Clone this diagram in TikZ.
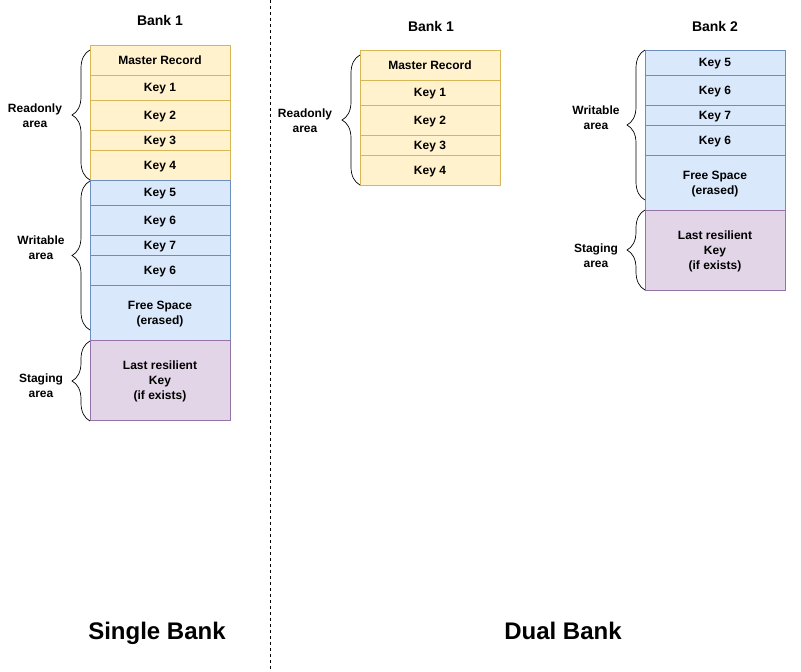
\documentclass[tikz,border=0pt]{standalone}
\usepackage{fontspec}
\setmainfont{Liberation Sans}
\usetikzlibrary{decorations.pathreplacing}
\definecolor{rofill}{HTML}{FFF2CC}
\definecolor{rodraw}{HTML}{D6B656}
\definecolor{wrfill}{HTML}{DAE8FC}
\definecolor{wrdraw}{HTML}{6C8EBF}
\definecolor{stfill}{HTML}{E1D5E7}
\definecolor{stdraw}{HTML}{9673A6}

\begin{document}
\begin{tikzpicture}[x=1pt,y=-1pt,
    every node/.style={inner sep=0pt, outer sep=0pt, align=center, text depth=0pt,
        font=\bfseries\fontsize{12}{15}\selectfont},
    cell/.style={draw, minimum width=140pt, anchor=north west, line width=0.7pt},
    rocell/.style={cell, fill=rofill, draw=rodraw},
    wrcell/.style={cell, fill=wrfill, draw=wrdraw},
    stcell/.style={cell, fill=stfill, draw=stdraw},
    bank/.style={font=\bfseries\fontsize{14}{17}\selectfont},
    caption/.style={font=\bfseries\fontsize{24}{28}\selectfont},
    brc/.style={decorate, decoration={brace, amplitude=18pt}, line width=0.7pt}]
                \useasboundingbox (0,0) rectangle (801,672);
                % divider
                \coordinate (dtop) at (270,0);
                \coordinate (dbot) at (270,672);
                \draw [black, dash pattern=on 3pt off 3pt, line width=0.7pt] (dtop) -- (dbot);
                % single bank
                \node [bank] (sbank) at (160,20) {Bank 1};
                \node [rocell, minimum height=30pt] (smr) at (90,45) {Master Record};
                \node [rocell, minimum height=25pt] (sk1) at (90,75) {Key 1};
                \node [rocell, minimum height=30pt] (sk2) at (90,100) {Key 2};
                \node [rocell, minimum height=20pt] (sk3) at (90,130) {Key 3};
                \node [rocell, minimum height=30pt] (sk4) at (90,150) {Key 4};
                \node [wrcell, minimum height=25pt] (sk5) at (90,180) {Key 5};
                \node [wrcell, minimum height=30pt] (sk6) at (90,205) {Key 6};
                \node [wrcell, minimum height=20pt] (sk7) at (90,235) {Key 7};
                \node [wrcell, minimum height=30pt] (sk6b) at (90,255) {Key 6};
                \node [wrcell, minimum height=55pt] (sfree) at (90,285) {Free Space\\(erased)};
                \node [stcell, minimum height=80pt] (slast) at (90,340) {Last resilient\\Key\\(if exists)};
                \draw [brc] (sk4.south west) -- ([yshift=-5pt]smr.north west);
                \node (sro) at (35,116) {Readonly\\area};
                \draw [brc] ([yshift=10pt]sfree.south west) -- ([yshift=-1pt]sk5.north west);
                \node (swr) at (41,248) {Writable\\area};
                \draw [brc] ([yshift=-1pt]slast.south west) -- ([yshift=-1pt]slast.north west);
                \node (sst) at (41,386) {Staging\\area};
                % dual bank, bank 1
                \node [bank] (dbank1) at (431,26) {Bank 1};
                \node [rocell, minimum height=30pt] (dmr) at (360,50) {Master Record};
                \node [rocell, minimum height=25pt] (dk1) at (360,80) {Key 1};
                \node [rocell, minimum height=30pt] (dk2) at (360,105) {Key 2};
                \node [rocell, minimum height=20pt] (dk3) at (360,135) {Key 3};
                \node [rocell, minimum height=30pt] (dk4) at (360,155) {Key 4};
                \draw [brc] (dk4.south west) -- ([yshift=-5pt]dmr.north west);
                \node (dro) at (305,121) {Readonly\\area};
                % dual bank, bank 2
                \node [bank] (dbank2) at (715,26) {Bank 2};
                \node [wrcell, minimum height=25pt] (dk5) at (645,50) {Key 5};
                \node [wrcell, minimum height=30pt] (dk6) at (645,75) {Key 6};
                \node [wrcell, minimum height=20pt] (dk7) at (645,105) {Key 7};
                \node [wrcell, minimum height=30pt] (dk6b) at (645,125) {Key 6};
                \node [wrcell, minimum height=55pt] (dfree) at (645,155) {Free Space\\(erased)};
                \node [stcell, minimum height=80pt] (dlast) at (645,210) {Last resilient\\Key\\(if exists)};
                \draw [brc] ([yshift=10pt]dfree.south west) -- (dk5.north west);
                \node (dwr) at (596,118) {Writable\\area};
                \draw [brc] (dlast.south west) -- (dlast.north west);
                \node (dst) at (596,256) {Staging\\area};
                % captions
                \node [caption] (single) at (157,631) {Single Bank};
                \node [caption] (dual) at (563,631) {Dual Bank};
\end{tikzpicture}
\end{document}
